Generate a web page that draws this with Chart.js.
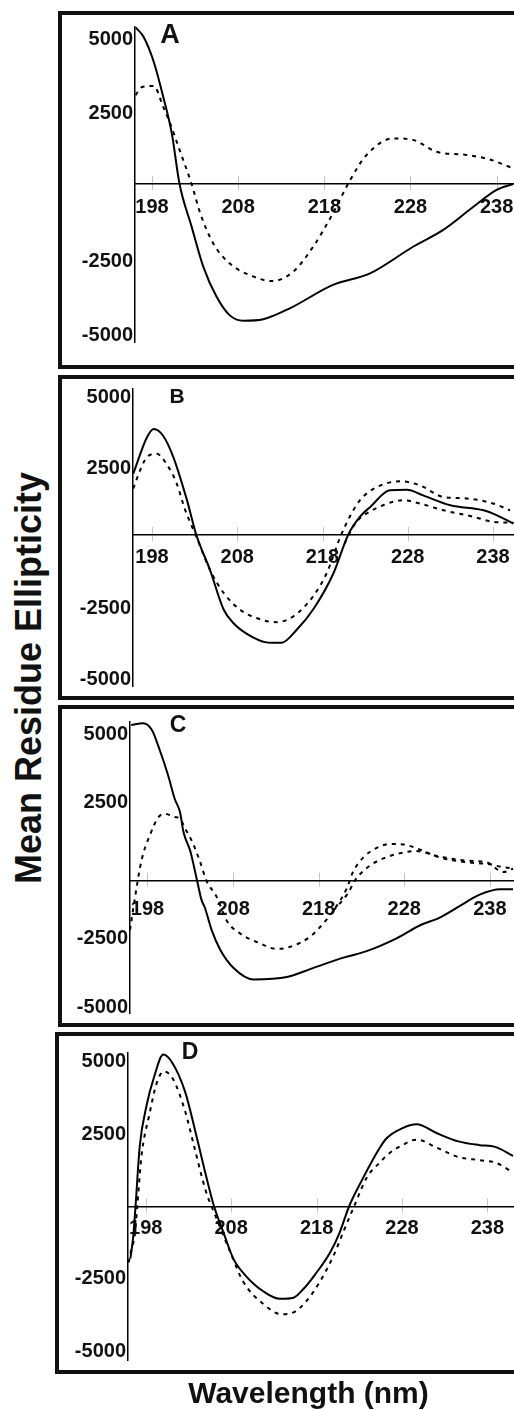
<!DOCTYPE html>
<html>
<head>
<meta charset="utf-8">
<script src="https://cdn.jsdelivr.net/npm/chart.js@4.4.1/dist/chart.umd.min.js"></script>
<style>
  html, body { margin: 0; padding: 0; background: #fff; }
  body { width: 514px; height: 1410px; position: relative; overflow: hidden;
         font-family: "Liberation Sans", Arial, sans-serif; color: #111; }
  .cv { position: absolute; }
  .frame { position: absolute; box-sizing: border-box; border: 4px solid #111; pointer-events: none; }
  .txt { position: absolute; font-weight: bold; line-height: 1; white-space: nowrap; transform: translate(-50%, -50%); }
</style>
</head>
<body>
<script>
// ---------------- data ----------------
const wavelengthTicks = [198, 208, 218, 228, 238];
const ellipticityTicks = [-5000, -2500, 2500, 5000];
const panelNames = ['A', 'B', 'C', 'D'];
const yAxisTitle = 'Mean Residue Ellipticity';
const xAxisTitle = 'Wavelength (nm)';

// [wavelength (nm), mean residue ellipticity]
const aSolid = [[196.1,5290],[197.0,4980],[198.2,4130],[199.3,2950],[200.3,1710],[201.2,0],[202.6,-1440],[203.95,-2790],[205.5,-3810],[207.0,-4430],[208.6,-4620],[210.9,-4570],[214.0,-4200],[219.0,-3410],[223.3,-3020],[228.3,-2120],[231.8,-1550],[235.3,-770],[238.0,-200],[239.9,0]];
const aDashed = [[196.1,3000],[196.8,3270],[198.2,3310],[199.3,2610],[200.1,2050],[201.2,1150],[202.6,0],[203.6,-990],[205.1,-2000],[207.0,-2680],[209.8,-3130],[211.9,-3280],[214.4,-2960],[216.7,-2120],[219.0,-990],[221.0,135],[222.9,980],[226.0,1540],[228.3,1490],[231.0,1090],[234.5,980],[237.2,830],[239.9,530]];

const bSolid = [[195.8,2180],[197.4,3470],[198.2,3770],[199.3,3530],[200.5,2770],[202.1,1240],[203.2,0],[204.8,-1240],[206.4,-2650],[207.5,-3120],[209.9,-3650],[211.8,-3830],[213.2,-3830],[215.0,-3360],[216.9,-2650],[219.3,-1350],[221.0,0],[222.4,650],[223.6,1000],[225.9,1590],[227.9,1610],[229.8,1410],[233.0,1060],[236.9,880],[238.4,710],[240.4,410]];
const bDashed = [[195.8,1650],[196.6,2300],[197.4,2770],[198.55,2890],[199.7,2530],[200.9,1830],[201.9,880],[203.2,-60],[204.8,-1240],[206.4,-2060],[208.3,-2650],[210.7,-3000],[212.6,-3100],[214.6,-2890],[216.9,-2180],[218.5,-1350],[220.1,-60],[221.2,650],[222.4,1240],[224.4,1710],[227.1,1910],[229.4,1770],[232.2,1350],[234.9,1300],[238.0,1120],[240.0,880]];
const bDashed2 = [[220.6,-300],[221.6,300],[222.4,600],[223.2,770],[225.1,1060],[227.5,1240],[229.4,1120],[232.2,880],[235.7,650],[238.0,470],[240.4,440]];

const cSolid = [[196.1,5720],[197.5,5780],[198.5,5540],[199.46,4770],[200.4,3880],[201.2,2990],[201.8,2520],[202.2,1800],[203.0,1090],[203.8,0],[204.3,-690],[204.7,-980],[205.5,-1810],[206.5,-2530],[208.0,-3180],[210.4,-3620],[214.3,-3530],[217.0,-3240],[220.9,-2820],[223.6,-2580],[227.1,-2110],[229.8,-1640],[232.2,-1340],[234.5,-920],[236.8,-510],[239.2,-310],[240.7,-310]];
const cDashed = [[195.96,-1810],[196.5,-700],[197.3,740],[198.3,1690],[199.3,2340],[200.0,2460],[201.2,2340],[201.8,2280],[202.4,1920],[203.2,1450],[204.1,740],[204.9,0],[206.1,-600],[207.25,-1460],[208.8,-1930],[211.1,-2290],[213.1,-2500],[214.6,-2430],[217.0,-2050],[218.5,-1580],[219.7,-1100],[221.3,-270],[222.0,320],[223.2,850],[224.8,1210],[226.3,1350],[227.9,1330],[229.8,1150],[232.2,850],[235.3,680],[237.6,620],[239.6,500],[240.7,460]];
const cDashed2 = [[219.7,-1100],[221.3,-510],[222.4,85],[224.0,560],[225.55,820],[227.5,1010],[229.45,1090],[231.8,910],[235.3,740],[237.6,680],[239.6,320],[240.7,440]];

const dSolid = [[196.2,-1800],[196.54,-1010],[196.8,0],[197.3,2100],[198.1,3500],[199.0,4500],[200.05,5250],[201.1,4970],[202.6,3970],[203.95,2420],[205.1,1010],[206.0,0],[207.1,-900],[208.25,-1800],[209.6,-2360],[211.75,-2930],[213.7,-3190],[215.3,-3150],[216.4,-2870],[217.8,-2360],[219.6,-1580],[220.7,-900],[221.8,0],[223.1,790],[225.4,2030],[226.2,2360],[228.0,2700],[229.7,2840],[232.1,2530],[234.6,2250],[237.1,2120],[238.9,2060],[241.0,1750]];
const dDashed = [[196.0,-1935],[196.3,-1500],[196.7,-1010],[197.0,0],[197.5,1750],[198.4,3150],[199.3,4280],[200.1,4670],[201.2,4400],[202.6,3300],[203.8,1915],[205.0,560],[205.7,0],[206.4,-500],[207.9,-1580],[209.4,-2590],[211.8,-3380],[213.9,-3720],[215.3,-3660],[216.8,-3270],[218.4,-2590],[220.0,-1690],[221.1,-900],[222.3,-60],[223.9,1010],[225.4,1520],[226.6,1860],[227.8,2080],[229.7,2310],[232.1,2030],[234.6,1710],[237.1,1600],[238.9,1520],[241.0,1180]];

// ---------------- layout (positions only) ----------------
const FONT = '"Liberation Sans", Arial, sans-serif';
const CANVAS_RIGHT = 560; // canvas runs past the 514px window edge, like the cropped original
const panels = [
  { name: panelNames[0], series: [[aSolid,false],[aDashed,true]],
    frameLeft: 58, frameTop: 11, frameBottom: 369, axisX: 135, axisTop: 27, axisBottom: 342,
    xMin: 196.03, xMax: 245.35, yMin: -5338, yMax: 5304, xPad: 11, yOff: 3,
    letter: { x: 170, y: 34, size: 27 } },
  { name: panelNames[1], series: [[bSolid,false],[bDashed,true],[bDashed2,true]],
    frameLeft: 58, frameTop: 375, frameBottom: 700, axisX: 133, axisTop: 388, axisBottom: 687,
    xMin: 195.77, xMax: 245.86, yMin: -5371, yMax: 5194, xPad: 10, yOff: 3.5,
    letter: { x: 177, y: 395, size: 21 } },
  { name: panelNames[2], series: [[cSolid,false],[cDashed,true],[cDashed2,true]],
    frameLeft: 58, frameTop: 705, frameBottom: 1027, axisX: 130, axisTop: 722, axisBottom: 1022,
    xMin: 195.96, xMax: 246.19, yMin: -4851, yMax: 5826, xPad: 17, yOff: -10,
    letter: { x: 178, y: 724, size: 23 } },
  { name: panelNames[3], series: [[dSolid,false],[dDashed,true]],
    frameLeft: 55, frameTop: 1032, frameBottom: 1374, axisX: 128, axisTop: 1053, axisBottom: 1367,
    xMin: 195.92, xMax: 246.5, yMin: -5304, yMax: 5304, xPad: 10, yOff: 0,
    letter: { x: 190, y: 1051, size: 23 } }
];

const crossTicks = {
  id: 'crossTicks',
  beforeDraw(chart) {
    const { ctx, scales: { x, y } } = chart;
    const y0 = y.getPixelForValue(0);
    ctx.save();
    ctx.strokeStyle = '#c4c4c4';
    ctx.lineWidth = 1;
    x.ticks.forEach(t => {
      const px = Math.round(x.getPixelForValue(t.value)) + 0.5;
      ctx.beginPath(); ctx.moveTo(px, y0 - 8); ctx.lineTo(px, y0 + 6); ctx.stroke();
    });
    ctx.restore();
  }
};

function addText(str, x, y, size, rotate) {
  const d = document.createElement('div');
  d.className = 'txt';
  d.textContent = str;
  d.style.left = x + 'px';
  d.style.top = y + 'px';
  d.style.fontSize = size + 'px';
  if (rotate) d.style.transform = 'translate(-50%, -50%) rotate(-90deg)';
  document.body.appendChild(d);
}

panels.forEach(p => {
  const w = CANVAS_RIGHT - p.frameLeft, h = p.frameBottom - p.frameTop;
  const cv = document.createElement('canvas');
  cv.className = 'cv';
  cv.width = w; cv.height = h;
  cv.style.left = p.frameLeft + 'px'; cv.style.top = p.frameTop + 'px';
  cv.style.width = w + 'px'; cv.style.height = h + 'px';
  document.body.appendChild(cv);

  const tickFont = { family: FONT, size: 20, weight: 'bold' };
  new Chart(cv.getContext('2d'), {
    type: 'line',
    data: {
      datasets: p.series.map(([pts, dashed]) => ({
        data: pts.map(q => ({ x: q[0], y: q[1] })),
        borderColor: '#000',
        borderWidth: 2,
        borderDash: dashed ? [4, 5] : [],
        pointRadius: 0,
        cubicInterpolationMode: 'monotone',
        fill: false
      }))
    },
    options: {
      responsive: false,
      animation: false,
      events: [],
      layout: { padding: { left: 0, right: 0, top: p.axisTop - p.frameTop, bottom: p.frameBottom - p.axisBottom } },
      plugins: { legend: { display: false }, tooltip: { enabled: false } },
      scales: {
        x: {
          type: 'linear', min: p.xMin, max: p.xMax,
          position: { y: 0 },
          afterBuildTicks: s => { s.ticks = wavelengthTicks.map(v => ({ value: v })); },
          afterFit: s => { s.height = 0; },
          grid: { display: false, drawTicks: false },
          border: { display: true, color: '#000', width: 1.5 },
          ticks: { padding: p.xPad, color: '#111', font: tickFont, maxRotation: 0, autoSkip: false,
                   callback: v => String(v) }
        },
        y: {
          type: 'linear', min: p.yMin, max: p.yMax,
          afterBuildTicks: s => { s.ticks = ellipticityTicks.map(v => ({ value: v })); },
          afterFit: s => { s.width = p.axisX - p.frameLeft; },
          grid: { display: false, drawTicks: false },
          border: { display: true, color: '#000', width: 1.5 },
          ticks: { padding: 2, labelOffset: p.yOff, color: '#111', font: tickFont, autoSkip: false,
                   callback: v => String(v) }
        }
      }
    },
    plugins: [crossTicks]
  });

  const f = document.createElement('div');
  f.className = 'frame';
  f.style.left = p.frameLeft + 'px';
  f.style.top = p.frameTop + 'px';
  f.style.width = (600 - p.frameLeft) + 'px';
  f.style.height = h + 'px';
  document.body.appendChild(f);

  addText(p.name, p.letter.x, p.letter.y, p.letter.size, false);
});

addText(yAxisTitle, 28.5, 678, 36, true);
addText(xAxisTitle, 308.5, 1393, 30, false);
</script>
</body>
</html>
